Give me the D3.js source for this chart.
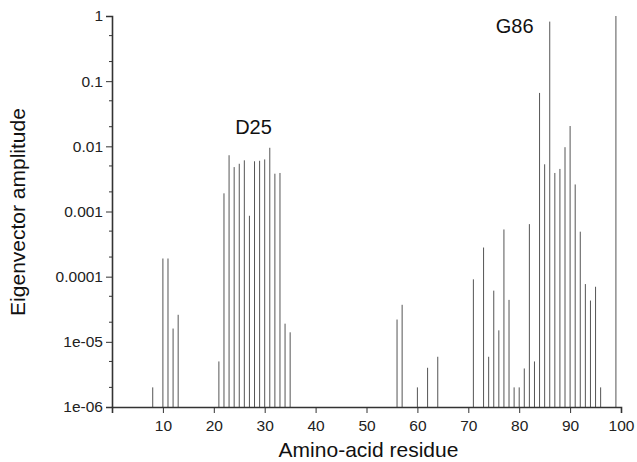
<!DOCTYPE html>
<html>
<head>
<meta charset="utf-8">
<script src="https://cdn.jsdelivr.net/npm/d3@7"></script>
<style>
  html, body { margin: 0; padding: 0; background: #fff; }
  svg { display: block; font-family: "Liberation Sans", Arial, Helvetica, sans-serif; }
</style>
</head>
<body>
<svg id="chart" width="637" height="462"></svg>
<script>
// Residue numbers with a non-zero amplitude
const residues = [8, 10, 11, 12, 13, 21, 22, 23, 24, 25, 26, 27, 28, 29, 30, 31, 32, 33, 34, 35,
  56, 57, 60, 62, 64, 71, 73, 74, 75, 76, 77, 78, 79, 80, 81, 82, 83, 84, 85, 86, 87, 88, 89,
  90, 91, 92, 93, 94, 95, 96, 99];

// Eigenvector amplitude for each residue above
const amplitudes = [2.0e-6, 1.9e-4, 1.9e-4, 1.6e-5, 2.6e-5, 5.0e-6, 1.9e-3, 7.3e-3, 4.8e-3, 5.4e-3,
  6.1e-3, 8.6e-4, 5.9e-3, 6.0e-3, 6.3e-3, 9.5e-3, 3.8e-3, 3.9e-3, 1.9e-5, 1.4e-5,
  2.2e-5, 3.7e-5, 2.0e-6, 4.0e-6, 5.9e-6, 9.1e-5, 2.8e-4, 5.9e-6, 6.1e-5, 1.5e-5, 5.3e-4, 4.4e-5,
  2.0e-6, 2.0e-6, 3.9e-6, 6.4e-4, 5.0e-6, 0.066, 5.3e-3, 0.82, 3.9e-3, 4.5e-3, 9.7e-3,
  0.0205, 2.6e-3, 4.9e-4, 7.7e-5, 4.3e-5, 7.0e-5, 2.0e-6, 1.0];

const xTicks = [10, 20, 30, 40, 50, 60, 70, 80, 90, 100];
const yTicks = [1e-6, 1e-5, 1e-4, 1e-3, 1e-2, 1e-1, 1];
const yTickLabels = ["1e-06", "1e-05", "0.0001", "0.001", "0.01", "0.1", "1"];

// Peak annotations: text, and where the text sits (residue, amplitude of its baseline)
const peakLabels = ["D25", "G86"];
const peakLabelX = [27.8, 79.1];
const peakLabelY = [0.0155, 0.55];

const margin = { left: 112, top: 16, right: 16, bottom: 55 };
const width = 637, height = 462;

const svg = d3.select("#chart");

const x = d3.scaleLinear().domain([0, 100]).range([margin.left, width - margin.right]);
const y = d3.scaleLog().domain([1e-6, 1]).range([height - margin.bottom, margin.top]);

const axisColor = "#333";

// Stems
svg.append("g")
  .selectAll("line")
  .data(residues.map((r, i) => ({ r, v: amplitudes[i] })))
  .join("line")
  .attr("x1", d => x(d.r))
  .attr("x2", d => x(d.r))
  .attr("y1", y(1e-6))
  .attr("y2", d => y(d.v))
  .attr("stroke", "#555")
  .attr("stroke-width", 1);

// Minor ticks on the log axis (2 and 5 within each decade)
const minor = [];
for (let e = -6; e < 0; e++) {
  [2, 5].forEach(m => minor.push(m * Math.pow(10, e)));
}

const yAxis = svg.append("g")
  .attr("transform", `translate(${margin.left},0)`)
  .call(d3.axisLeft(y).tickValues(yTicks)
    .tickFormat((d, i) => yTickLabels[i])
    .tickSize(6).tickPadding(3));
yAxis.select(".domain").attr("stroke", axisColor).attr("stroke-width", 1.6);
yAxis.selectAll(".tick line").attr("stroke", axisColor);
yAxis.selectAll("text").attr("font-size", 15.5).attr("fill", "#222")
  .attr("font-family", "Liberation Sans, Arial, sans-serif");

svg.append("g")
  .selectAll("line")
  .data(minor)
  .join("line")
  .attr("x1", margin.left - 3)
  .attr("x2", margin.left)
  .attr("y1", d => y(d))
  .attr("y2", d => y(d))
  .attr("stroke", axisColor)
  .attr("stroke-width", 1);

const xAxis = svg.append("g")
  .attr("transform", `translate(0,${height - margin.bottom})`)
  .call(d3.axisBottom(x).tickValues(xTicks).tickSize(6).tickPadding(7));
xAxis.select(".domain").attr("stroke", axisColor).attr("stroke-width", 1.6);
xAxis.selectAll(".tick line").attr("stroke", axisColor);
xAxis.selectAll("text").attr("font-size", 15.5).attr("fill", "#222")
  .attr("font-family", "Liberation Sans, Arial, sans-serif");

// Axis titles
svg.append("text")
  .attr("x", (x(0) + x(100)) / 2 + 2)
  .attr("y", 457)
  .attr("text-anchor", "middle")
  .attr("font-size", 21)
  .attr("fill", "#111")
  .text("Amino-acid residue");

svg.append("text")
  .attr("transform", `translate(25,212) rotate(-90)`)
  .attr("text-anchor", "middle")
  .attr("font-size", 21)
  .attr("fill", "#111")
  .text("Eigenvector amplitude");

// Peak annotations
svg.append("g")
  .selectAll("text")
  .data(peakLabels.map((t, i) => ({ t, px: peakLabelX[i], py: peakLabelY[i] })))
  .join("text")
  .attr("x", d => x(d.px))
  .attr("y", d => y(d.py))
  .attr("text-anchor", "middle")
  .attr("font-size", 20)
  .attr("fill", "#111")
  .text(d => d.t);
</script>
</body>
</html>
